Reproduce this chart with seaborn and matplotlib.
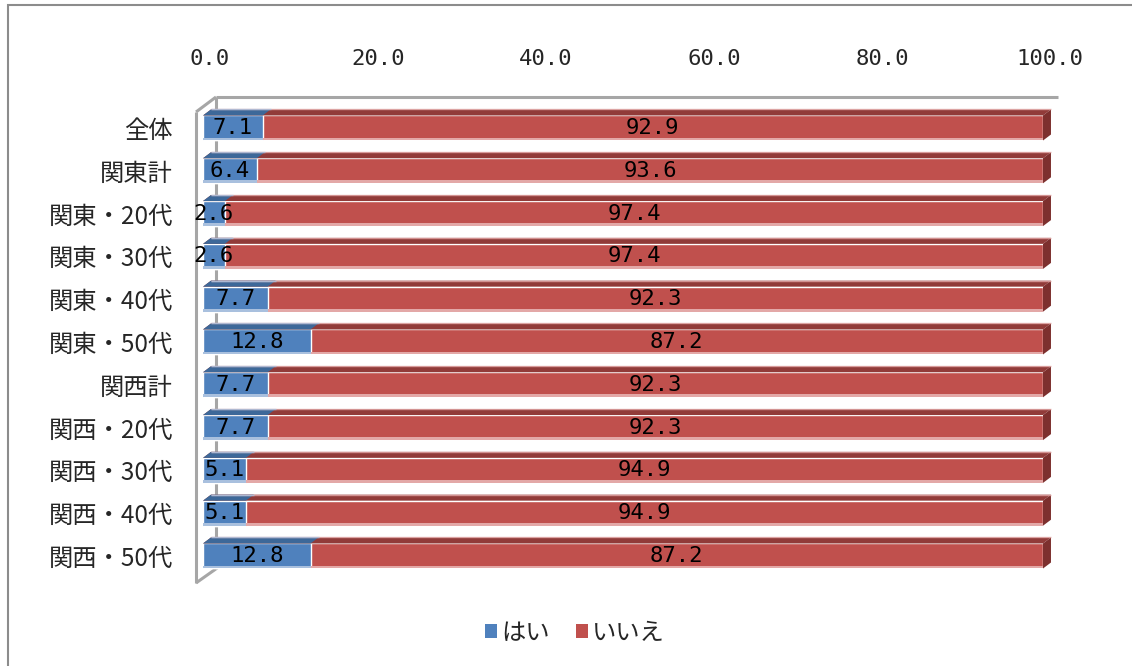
import numpy as np
import pandas as pd
import seaborn as sns
import matplotlib
matplotlib.use("Agg")
import matplotlib.pyplot as plt
from matplotlib.patches import Polygon, Patch, Rectangle
from matplotlib.transforms import ScaledTranslation

# ---- data -------------------------------------------------------------
categories = ["全体", "関東計", "関東・20代", "関東・30代", "関東・40代", "関東・50代",
              "関西計", "関西・20代", "関西・30代", "関西・40代", "関西・50代"]
yes_values = [7.1, 6.4, 2.6, 2.6, 7.7, 12.8, 7.7, 7.7, 5.1, 5.1, 12.8]
no_values = [92.9, 93.6, 97.4, 97.4, 92.3, 87.2, 92.3, 92.3, 94.9, 94.9, 87.2]
series_names = ["はい", "いいえ"]
tick_values = [0, 20, 40, 60, 80, 100]
tick_labels = ["0.0", "20.0", "40.0", "60.0", "80.0", "100.0"]

df = pd.DataFrame({"cat": categories, "yes": yes_values, "no": no_values})
df["total"] = df["yes"] + df["no"]

# ---- style --------------------------------------------------------------
sns.set_theme(style="white")
plt.rcParams["font.family"] = ["Noto Sans CJK JP", "DejaVu Sans"]
NUM_FONT = "DejaVu Sans Mono"

BLUE, BLUE_TOP, BLUE_LIGHT = "#4F81BD", "#3D6899", "#A9C0DE"
RED, RED_TOP, RED_SIDE, RED_LIGHT = "#C0504D", "#913B39", "#7D302E", "#E3A8A7"
WALL = "#A6A6A6"

W, H, DPI = 1132, 666, 100
fig = plt.figure(figsize=(W / DPI, H / DPI), dpi=DPI)
ax = fig.add_axes([182 / W, (H - 594.5) / H, 894.6 / W, 502.9 / H])

BAR_W = 0.585
sns.barplot(data=df, y="cat", x="total", color=RED, width=BAR_W, orient="h",
            saturation=1, ax=ax, zorder=3)
sns.barplot(data=df, y="cat", x="yes", color=BLUE, width=BAR_W, orient="h",
            saturation=1, ax=ax, zorder=3)

ax.set_xlim(-2.5, 104)
ax.set_ylim(10.9, -0.85)

# 3-D depth of the bars in data units
DX, DY = 0.95, 0.14

n = len(categories)
red_patches = ax.patches[:n]
blue_patches = ax.patches[n:2 * n]


def add_depth(p, top_color, light_color, side_color=None):
    x0, y0 = p.get_x(), p.get_y()
    w, h = p.get_width(), p.get_height()
    top = y0  # inverted y axis: y0 is the upper edge
    ax.add_patch(Polygon([(x0, top), (x0 + w, top), (x0 + w + DX, top - DY),
                          (x0 + DX, top - DY)], closed=True, facecolor=top_color,
                         edgecolor="none", zorder=3))
    ax.plot([x0 + DX, x0 + w + DX], [top - DY, top - DY], color=light_color,
            lw=1.0, alpha=0.8, zorder=4, solid_capstyle="butt")
    ax.add_patch(Rectangle((x0, y0 + h - 0.07), w, 0.07, facecolor=light_color,
                           edgecolor="none", zorder=4))
    if side_color is not None:
        ax.add_patch(Polygon([(x0 + w, top), (x0 + w + DX, top - DY),
                              (x0 + w + DX, top + h - DY), (x0 + w, top + h)],
                             closed=True, facecolor=side_color, edgecolor="none",
                             zorder=3))


for p in red_patches:
    add_depth(p, RED_TOP, RED_LIGHT, RED_SIDE)
for p in blue_patches:
    add_depth(p, BLUE_TOP, BLUE_LIGHT)

# value labels centred in each segment
for i, (yv, nv) in enumerate(zip(yes_values, no_values)):
    ax.text(yv / 2, i, f"{yv:.1f}", ha="center", va="center", fontsize=16,
            family=NUM_FONT, color="black", zorder=6)
    ax.text(yv + nv / 2, i, f"{nv:.1f}", ha="center", va="center", fontsize=16,
            family=NUM_FONT, color="black", zorder=6)

# walls of the 3-D plot area
front_x, back_x = -0.83, 1.55
y_top_front, y_top_back = -0.374, -0.724
y_bot_front, y_bot_back = 10.63, 10.30
wall_kw = dict(color=WALL, lw=2.2, solid_capstyle="butt", clip_on=False, zorder=1)
ax.plot([front_x, front_x], [y_top_front, y_bot_front], **wall_kw)
ax.plot([back_x, back_x], [y_top_back, y_bot_back], **wall_kw)
ax.plot([front_x, back_x], [y_top_front, y_top_back], **wall_kw)
ax.plot([front_x, back_x], [y_bot_front, y_bot_back], **wall_kw)
ax.plot([back_x, 101.8], [y_top_back, y_top_back], **wall_kw)

# axes: value ticks on top, categories on the left
for s in ax.spines.values():
    s.set_visible(False)
ax.set_xlabel("")
ax.set_ylabel("")
ax.xaxis.set_ticks_position("top")
ax.set_xticks(tick_values)
ax.set_xticklabels(tick_labels, family=NUM_FONT, fontsize=16)
ax.tick_params(axis="x", length=0, pad=16.5)
ax.tick_params(axis="y", length=0, pad=6.5, labelsize=17.5)

shift = ScaledTranslation(7 / DPI, 0, fig.dpi_scale_trans)
for lab in ax.get_xticklabels():
    lab.set_transform(lab.get_transform() + shift)

# legend
handles = [Patch(facecolor=BLUE, edgecolor="none"), Patch(facecolor=RED, edgecolor="none")]
fig.legend(handles, series_names, loc="center", bbox_to_anchor=(575 / W, 1 - 633 / H),
           ncol=2, frameon=False, fontsize=17.5, handlelength=0.5, handleheight=0.5,
           handletextpad=0.15, columnspacing=1.1)

# chart-area border
fig.add_artist(Rectangle((8 / W, -0.1), 1.2, 1 - 5 / H + 0.1, transform=fig.transFigure,
                         facecolor="none", edgecolor="#8C8C8C", lw=1.5))

fig.savefig("out.png", dpi=DPI)
